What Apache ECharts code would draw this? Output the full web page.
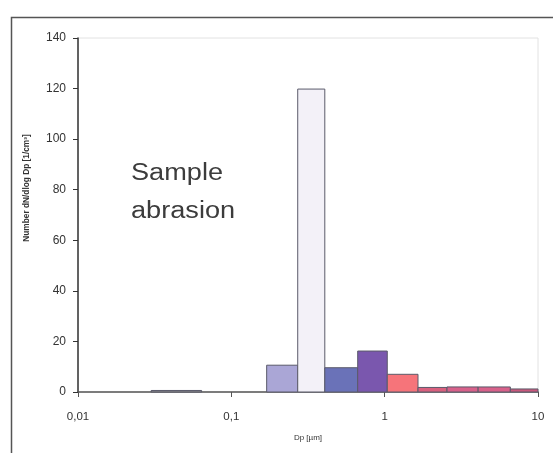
<!DOCTYPE html>
<html><head><meta charset="utf-8">
<script src="https://cdn.jsdelivr.net/npm/echarts@6/dist/echarts.min.js"></script>
<style>html,body{margin:0;padding:0;background:#fff;}#c{width:553px;height:453px;}</style>
</head><body><div id="c"></div>
<script>
// Bin edges (Dp, µm) and values (dN/dlogDp)
const binLeft  = [0.030, 0.170, 0.271, 0.407, 0.667, 1.04, 1.65, 2.55, 4.07, 6.6];
const binRight = [0.064, 0.271, 0.407, 0.667, 1.04, 1.65, 2.55, 4.07, 6.6, 10];
const values   = [0.6, 10.6, 119.8, 9.6, 16.2, 7.0, 1.8, 2.0, 2.0, 1.2];
const barColors = ['#8c8c8c', '#aaa6d6', '#f3f1f8', '#6a72b8', '#7a57ae', '#f6747a', '#d9607e', '#d8618a', '#d8618a', '#c9587c'];
const yTicks = [0, 20, 40, 60, 80, 100, 120, 140];
const xTickLabels = {'0.01': '0,01', '0.1': '0,1', '1': '1', '10': '10'};

const data = binLeft.map((l, i) => [l, binRight[i], values[i]]);
const chart = echarts.init(document.getElementById('c'), null, {renderer: 'canvas'});
chart.setOption({
  animation: false,
  backgroundColor: '#fff',
  grid: {left: 78, top: 38, right: 15, bottom: 61, show: true, borderColor: '#e2e2e2', borderWidth: 1},
  xAxis: {
    type: 'log', logBase: 10, min: 0.01, max: 10,
    axisLine: {show: true, onZero: false, lineStyle: {color: '#555', width: 1.5}},
    axisTick: {show: true, length: 5, lineStyle: {color: '#555'}},
    minorTick: {show: false},
    splitLine: {show: false},
    axisLabel: {margin: 19, color: '#333', fontSize: 11.5, fontFamily: 'Liberation Sans',
      formatter: v => xTickLabels[String(+v.toPrecision(3))] || ''},
    name: 'Dp [µm]', nameLocation: 'middle', nameGap: 42,
    nameTextStyle: {fontSize: 8, color: '#333', fontFamily: 'Liberation Sans'}
  },
  yAxis: {
    type: 'value', min: yTicks[0], max: yTicks[yTicks.length - 1], interval: 20,
    axisLine: {show: true, lineStyle: {color: '#333', width: 1.5}},
    axisTick: {show: true, length: 5, lineStyle: {color: '#333'}},
    splitLine: {show: false},
    axisLabel: {margin: 12, color: '#333', fontSize: 12, fontFamily: 'Liberation Sans'}
  },
  series: [{
    type: 'custom',
    data: data,
    encode: {x: [0, 1], y: 2},
    renderItem: function (params, api) {
      const p0 = api.coord([api.value(0), api.value(2)]);
      const p1 = api.coord([api.value(1), 0]);
      return {
        type: 'rect',
        shape: {x: p0[0], y: p0[1], width: p1[0] - p0[0], height: p1[1] - p0[1]},
        style: {fill: barColors[params.dataIndex], stroke: '#5a5a6a', lineWidth: 1}
      };
    }
  }],
  graphic: [
    {type: 'rect', left: 9, top: 15, shape: {width: 600, height: 500},
      style: {fill: 'none', stroke: '#555', lineWidth: 1.5}, silent: true, z: -1},
    {type: 'text', x: 131, y: 155, scaleX: 1.18,
      style: {text: 'Sample\nabrasion', fontSize: 23, lineHeight: 38,
      fill: '#3c3c3c', fontFamily: 'Liberation Sans', textAlign: 'left'}},
    {type: 'text', x: 27, y: 188, rotation: Math.PI / 2,
      style: {text: 'Number dN/dlog Dp [1/cm³]', fontSize: 8.3, fontWeight: 'bold', fill: '#333',
        fontFamily: 'Liberation Sans', textAlign: 'center', textVerticalAlign: 'middle'}}
  ]
});
</script></body></html>
